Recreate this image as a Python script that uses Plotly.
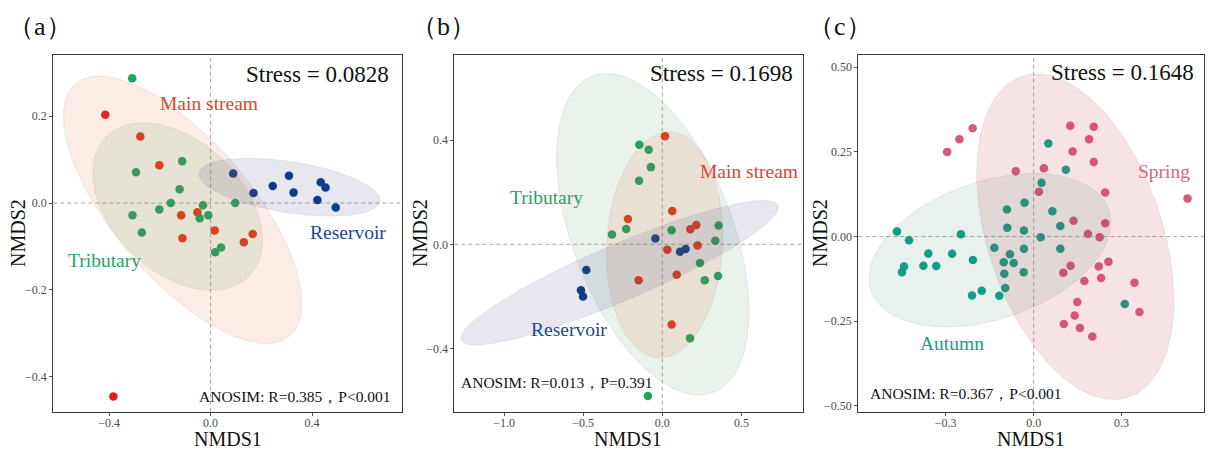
import numpy as np
import plotly.graph_objects as go

# ---------------- data ----------------
# (a) river sections
a_main_x = [-0.415, -0.277, -0.202, -0.116, -0.111, -0.052, 0.016, 0.131, 0.166, -0.383]
a_main_y = [0.203, 0.153, 0.087, -0.028, -0.081, -0.021, -0.063, -0.090, -0.071, -0.445]
a_trib_x = [-0.309, -0.294, -0.112, -0.122, -0.157, -0.202, -0.308, -0.271, -0.030, -0.009, -0.043, 0.097, 0.018, 0.041]
a_trib_y = [0.287, 0.071, 0.096, 0.032, 0.000, -0.015, -0.028, -0.068, -0.005, -0.028, -0.035, 0.000, -0.113, -0.102]
a_res_x = [0.089, 0.169, 0.245, 0.309, 0.327, 0.434, 0.453, 0.421, 0.493]
a_res_y = [0.068, 0.023, 0.039, 0.063, 0.024, 0.048, 0.036, 0.007, -0.010]

# (b) river sections
b_main_x = [0.017, -0.217, 0.063, 0.177, 0.215, 0.223, 0.032, 0.091, -0.150, 0.059]
b_main_y = [0.414, 0.097, 0.128, 0.058, 0.074, -0.005, -0.021, -0.117, -0.138, -0.308]
b_trib_x = [-0.145, -0.086, -0.072, -0.147, -0.318, -0.228, 0.059, 0.356, 0.335, 0.238, 0.268, 0.352, 0.175, -0.091]
b_trib_y = [0.382, 0.363, 0.296, 0.244, 0.038, 0.059, 0.054, 0.072, 0.014, -0.072, -0.138, -0.122, -0.360, -0.582]
b_res_x = [-0.044, 0.112, 0.147, -0.480, -0.514, -0.501]
b_res_y = [0.022, -0.029, -0.018, -0.099, -0.176, -0.200]

# (c) seasons
c_spring_x = [-0.295, -0.253, -0.208, -0.061, 0.035, 0.018, 0.125, 0.205, 0.189, 0.133,
              0.205, 0.244, 0.525, 0.136, 0.244, 0.185, 0.225, 0.126, 0.101, 0.222,
              0.255, 0.230, 0.173, 0.344, 0.149, 0.361, 0.140, 0.103, 0.158, 0.200]
c_spring_y = [0.250, 0.287, 0.320, 0.193, 0.202, 0.132, 0.327, 0.324, 0.287, 0.251,
              0.220, 0.130, 0.112, 0.047, 0.039, 0.008, -0.002, -0.086, -0.107, -0.088,
              -0.074, -0.122, -0.131, -0.136, -0.193, -0.223, -0.233, -0.258, -0.270, -0.295]
c_autumn_x = [-0.466, -0.425, -0.248, -0.359, -0.278, -0.207, -0.442, -0.449, -0.376, -0.332,
              -0.177, -0.210, -0.117, 0.050, 0.110, 0.027, -0.031, -0.091, 0.064, -0.090,
              -0.033, 0.091, 0.024, -0.134, -0.081, -0.033, 0.091, -0.102, -0.068, -0.100,
              -0.034, -0.097, 0.311]
c_autumn_y = [0.015, -0.011, 0.007, -0.050, -0.051, -0.069, -0.088, -0.105, -0.086, -0.087,
              -0.160, -0.174, -0.175, 0.275, 0.197, 0.159, 0.100, 0.080, 0.075, 0.026,
              0.018, 0.031, -0.002, -0.033, -0.052, -0.036, -0.036, -0.076, -0.078, -0.110,
              -0.105, -0.152, -0.199]

# ellipse parameters: centre x, centre y, half-width, half-height, tilt (y offset at x-extreme / half-height)
ell_a = {"Main stream": (-0.110, -0.0155, 0.470, 0.3075, -0.70),
         "Tributary": (-0.130, -0.008, 0.334, 0.1925, -0.40),
         "Reservoir": (0.311, 0.0365, 0.357, 0.0665, -0.45)}
ell_b = {"Tributary": (-0.060, 0.0385, 0.608, 0.6165, -0.48),
         "Main stream": (0.0147, -0.002, 0.367, 0.433, 0.08),
         "Reservoir": (-0.270, -0.109, 1.0025, 0.277, 0.906)}
ell_c = {"Spring": (0.142, -0.0005, 0.336, 0.4805, -0.39),
         "Autumn": (-0.149, -0.0405, 0.4125, 0.2265, 0.36)}

stress = ["Stress = 0.0828", "Stress = 0.1698", "Stress = 0.1648"]
anosim = ["ANOSIM: R=0.385，P<0.001", "ANOSIM: R=0.013，P=0.391", "ANOSIM: R=0.367，P<0.001"]
panel_tags = ["（a）", "（b）", "（c）"]

# ---------------- styling ----------------
FONT = '"Liberation Serif", "Times New Roman", "Noto Serif", serif'
C_MAIN = "rgb(230,55,25)"
C_MAIN_OUT = "rgb(228,26,28)"
C_TRIB = "rgb(29,164,98)"
C_RES = "rgb(12,60,140)"
C_SPRING = "rgb(217,90,120)"
C_AUTUMN = "rgb(15,163,140)"

FILL = {"Main stream": "rgba(225,110,40,0.12)",
        "Tributary": "rgba(60,140,80,0.11)",
        "Reservoir": "rgba(47,55,122,0.12)",
        "Spring": "rgba(200,60,80,0.15)",
        "Autumn": "rgba(40,120,90,0.10)"}

LABEL_COL = {"Main stream": "#E2432A", "Tributary": "#27A45E", "Reservoir": "#1D4793",
             "Spring": "#D8667F", "Autumn": "#14A08A"}


def ellipse(cx, cy, hx, hy, r, n=200):
    t = np.linspace(0, 2 * np.pi, n)
    phi = np.arccos(r)
    return cx + hx * np.cos(t), cy + hy * np.cos(t - phi)


fig = go.Figure()


def add_points(x, y, color, xa, ya):
    fig.add_trace(go.Scatter(x=x, y=y, mode="markers", xaxis=xa, yaxis=ya,
                             marker=dict(size=8.5, color=color, line=dict(width=0)),
                             showlegend=False, hoverinfo="skip"))


def add_ellipses(ells, xa, ya):
    for name, p in ells.items():
        ex, ey = ellipse(*p)
        fig.add_trace(go.Scatter(x=ex, y=ey, mode="lines", fill="toself", xaxis=xa, yaxis=ya,
                                 fillcolor=FILL[name],
                                 line=dict(width=0.8, color="rgba(130,130,130,0.18)"),
                                 showlegend=False, hoverinfo="skip"))


# panel (a)
main_cols = [C_MAIN_OUT if i in (0, 9) else C_MAIN for i in range(len(a_main_x))]
add_points(a_main_x, a_main_y, main_cols, "x", "y")
add_points(a_trib_x, a_trib_y, C_TRIB, "x", "y")
add_points(a_res_x, a_res_y, C_RES, "x", "y")
add_ellipses(ell_a, "x", "y")

# panel (b)
add_points(b_main_x, b_main_y, C_MAIN, "x2", "y2")
add_points(b_trib_x, b_trib_y, C_TRIB, "x2", "y2")
add_points(b_res_x, b_res_y, C_RES, "x2", "y2")
add_ellipses(ell_b, "x2", "y2")

# panel (c)
add_points(c_spring_x, c_spring_y, C_SPRING, "x3", "y3")
add_points(c_autumn_x, c_autumn_y, C_AUTUMN, "x3", "y3")
add_ellipses(ell_c, "x3", "y3")

# ---------------- axes ----------------
x_domains = [[0.0441, 0.3325], [0.3761, 0.6650], [0.7105, 0.9967]]
y_domain = [0.0851, 0.8778]
x_ranges = [[-0.620, 0.753], [-1.314, 0.891], [-0.598, 0.581]]
y_ranges = [[-0.480, 0.3406], [-0.642, 0.726], [-0.517, 0.536]]
x_ticks = [[-0.4, 0.0, 0.4], [-1.0, -0.5, 0.0, 0.5], [-0.3, 0.0, 0.3]]
y_ticks = [[-0.4, -0.2, 0.0, 0.2], [-0.4, 0.0, 0.4], [-0.50, -0.25, 0.0, 0.25, 0.50]]
y_fmt = [".1f", ".1f", ".2f"]

common = dict(showline=True, linecolor="#3a3a3a", linewidth=1, mirror=True,
              showgrid=False, zeroline=False, ticks="outside", ticklen=3,
              tickcolor="#555555", tickwidth=1,
              tickfont=dict(family=FONT, size=12, color="#4D4D4D"))

layout = dict(width=1208, height=450, margin=dict(l=0, r=0, t=0, b=0),
              paper_bgcolor="white", plot_bgcolor="white", showlegend=False,
              font=dict(family=FONT))
for i in range(3):
    sx = "" if i == 0 else str(i + 1)
    layout["xaxis" + sx] = dict(common, domain=x_domains[i], range=x_ranges[i],
                                tickvals=x_ticks[i], tickformat=".1f", anchor="y" + sx,
                                ticklabelstandoff=-3)
    layout["yaxis" + sx] = dict(common, domain=y_domain, range=y_ranges[i],
                                tickvals=y_ticks[i], tickformat=y_fmt[i], anchor="x" + sx)
fig.update_layout(**layout)

# dashed zero lines
for i in range(3):
    sx = "" if i == 0 else str(i + 1)
    dash = dict(color="#A8A8A8", width=1, dash="4px,3px")
    fig.add_shape(type="line", xref="x" + sx + " domain", yref="y" + sx,
                  x0=0, x1=1, y0=0, y1=0, line=dash, layer="below")
    fig.add_shape(type="line", xref="x" + sx, yref="y" + sx + " domain",
                  x0=0, x1=0, y0=0, y1=1, line=dash, layer="below")

# ---------------- annotations ----------------
ann = []
stress_pos = [(0.968, 0.946), (0.976, 0.9486), (0.977, 0.950)]
anosim_pos = [(0.976, 0.043, "right"), (0.014, 0.0815, "left"), (0.029, 0.050, "left")]
for i in range(3):
    sx = "" if i == 0 else str(i + 1)
    ann.append(dict(text=stress[i], xref="x" + sx + " domain", yref="y" + sx + " domain",
                    x=stress_pos[i][0], y=stress_pos[i][1], xanchor="right", yanchor="middle",
                    showarrow=False, font=dict(family=FONT, size=23, color="#111")))
    ax_, ay_, anc = anosim_pos[i]
    ann.append(dict(text=anosim[i], xref="x" + sx + " domain", yref="y" + sx + " domain",
                    x=ax_, y=ay_, xanchor=anc, yanchor="middle",
                    showarrow=False, font=dict(family=FONT, size=15.5, color="#111")))

# axis titles
xtitle_x = [228, 628, 1031]
ytitle_x = [18, 420, 820]
for i in range(3):
    ann.append(dict(text="NMDS1", xref="paper", yref="paper",
                    x=xtitle_x[i] / 1208, y=1 - 439 / 450, xanchor="center", yanchor="middle",
                    showarrow=False, font=dict(family=FONT, size=20, color="#111")))
    ann.append(dict(text="NMDS2", xref="paper", yref="paper", textangle=-90,
                    x=ytitle_x[i] / 1208, y=1 - 233 / 450, xanchor="center", yanchor="middle",
                    showarrow=False, font=dict(family=FONT, size=20, color="#111")))

tag_x = [40, 443, 840]
for i in range(3):
    ann.append(dict(text=panel_tags[i], xref="paper", yref="paper",
                    x=tag_x[i] / 1208, y=1 - 26 / 450, xanchor="center", yanchor="middle",
                    showarrow=False, font=dict(family=FONT, size=26, color="#111")))

group_labels = [
    ("x", "y", "Main stream", -0.006, 0.229),
    ("x", "y", "Tributary", -0.420, -0.133),
    ("x", "y", "Reservoir", 0.541, -0.067),
    ("x2", "y2", "Main stream", 0.550, 0.281),
    ("x2", "y2", "Tributary", -0.731, 0.178),
    ("x2", "y2", "Reservoir", -0.588, -0.327),
    ("x3", "y3", "Spring", 0.445, 0.191),
    ("x3", "y3", "Autumn", -0.280, -0.317),
]
for xa, ya, name, gx, gy in group_labels:
    ann.append(dict(text=name, xref=xa, yref=ya, x=gx, y=gy, xanchor="center", yanchor="middle",
                    showarrow=False, font=dict(family=FONT, size=19.5, color=LABEL_COL[name])))

fig.update_layout(annotations=ann)
fig.write_html("out.html")
